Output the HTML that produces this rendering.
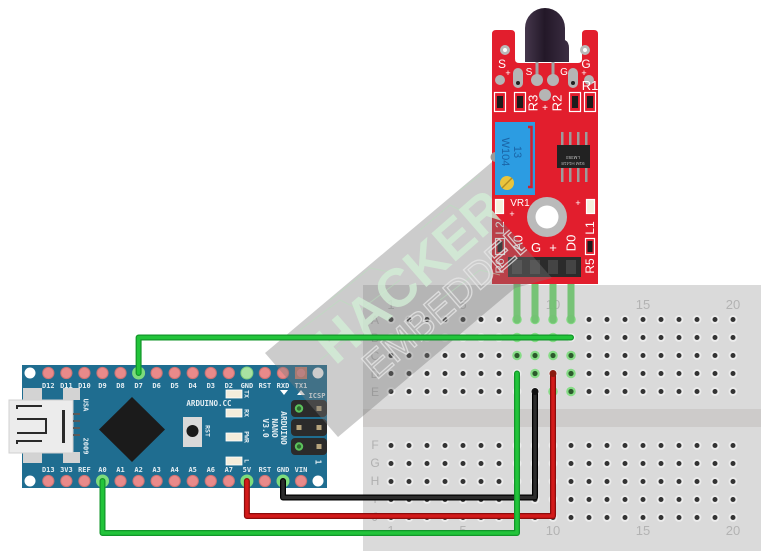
<!DOCTYPE html>
<html><head><meta charset="utf-8"><style>
html,body{margin:0;padding:0;background:#fff;}
svg{display:block;}
.mono{font-family:"DejaVu Sans Mono","Liberation Mono",monospace;font-weight:bold;}
.sans{font-family:"Liberation Sans",sans-serif;}
</style></head><body>
<svg width="766" height="556" viewBox="0 0 766 556" xmlns="http://www.w3.org/2000/svg">
<defs>
<pattern id="holes" x="382" y="310.5" width="18" height="18" patternUnits="userSpaceOnUse">
<circle cx="9" cy="9" r="4.4" fill="#ececec"/><circle cx="9" cy="9" r="2.5" fill="#333"/>
</pattern>
<pattern id="pads" x="39.3" y="366" width="18.05" height="14" patternUnits="userSpaceOnUse">
<circle cx="9.025" cy="7" r="5.6" fill="#e98a8a" stroke="#cf7272" stroke-width="1"/>
</pattern>
<pattern id="pads2" x="39.3" y="474" width="18.05" height="14" patternUnits="userSpaceOnUse">
<circle cx="9.025" cy="7" r="5.6" fill="#e98a8a" stroke="#cf7272" stroke-width="1"/>
</pattern>
<linearGradient id="led" x1="0" x2="1" y1="0" y2="0">
<stop offset="0" stop-color="#45374c"/><stop offset="0.45" stop-color="#231828"/><stop offset="1" stop-color="#3c2e43"/>
</linearGradient>
<clipPath id="wm"><polygon points="265,353 492,162 492,210 552,278 515,288 338,437"/></clipPath>
</defs>

<!-- Breadboard -->
<rect x="363" y="285" width="398" height="266" fill="#dadada"/>
<rect x="363" y="409" width="398" height="18" fill="#cdcbca"/>
<rect x="382" y="310.5" width="360" height="90" fill="url(#holes)"/>
<rect x="382" y="435.5" width="360" height="90" fill="url(#holes)"/>
<g class="sans" font-size="13" fill="#b3b3b3" text-anchor="middle">
<text x="391" y="309">1</text><text x="463" y="309">5</text><text x="553" y="309">10</text><text x="643" y="309">15</text><text x="733" y="309">20</text>
<text x="391" y="535">1</text><text x="463" y="535">5</text><text x="553" y="535">10</text><text x="643" y="535">15</text><text x="733" y="535">20</text>
</g>
<g class="sans" font-size="12" fill="#b0b0b0" text-anchor="middle">
<text x="375" y="324">A</text><text x="375" y="342">B</text><text x="375" y="360">C</text><text x="375" y="378">D</text><text x="375" y="396">E</text>
<text x="375" y="449">F</text><text x="375" y="467">G</text><text x="375" y="485">H</text><text x="375" y="503">I</text><text x="375" y="521">J</text>
</g>
<!-- highlighted holes cols 8-11 rows A-E -->
<g>
<g fill="#86dc86"><circle cx="517" cy="319.5" r="4.8"/><circle cx="535" cy="319.5" r="4.8"/><circle cx="553" cy="319.5" r="4.8"/><circle cx="571" cy="319.5" r="4.8"/>
<circle cx="517" cy="355.5" r="4.8"/><circle cx="535" cy="355.5" r="4.8"/><circle cx="553" cy="355.5" r="4.8"/><circle cx="571" cy="355.5" r="4.8"/>
<circle cx="535" cy="373.5" r="4.8"/><circle cx="571" cy="373.5" r="4.8"/>
<circle cx="553" cy="391.5" r="4.8"/><circle cx="571" cy="391.5" r="4.8"/>
<circle cx="517" cy="337.5" r="4.8"/><circle cx="535" cy="337.5" r="4.8"/><circle cx="553" cy="337.5" r="4.8"/></g>
<g fill="#2c5a2c"><circle cx="535" cy="355.5" r="2.6"/><circle cx="553" cy="355.5" r="2.6"/><circle cx="571" cy="355.5" r="2.6"/><circle cx="517" cy="355.5" r="2.6"/>
<circle cx="535" cy="373.5" r="2.6"/><circle cx="571" cy="373.5" r="2.6"/><circle cx="553" cy="391.5" r="2.6"/><circle cx="571" cy="391.5" r="2.6"/>
<circle cx="517" cy="337.5" r="2.6"/><circle cx="535" cy="337.5" r="2.6"/><circle cx="553" cy="337.5" r="2.6"/></g>
</g>

<!-- Arduino Nano -->
<g>
<rect x="22" y="365" width="305" height="123" fill="#1f6d90"/>
<g fill="#fff"><circle cx="30" cy="373" r="5.5"/><circle cx="318" cy="373" r="5.5"/><circle cx="30" cy="481" r="5.5"/><circle cx="318" cy="481" r="5.5"/></g>
<rect x="39.3" y="366" width="270.75" height="14" fill="url(#pads)"/>
<rect x="39.3" y="474" width="270.75" height="14" fill="url(#pads2)"/>
<rect x="295" y="367" width="12" height="12" fill="#c47c6c"/><circle cx="301" cy="373" r="4.2" fill="#e48686"/>
<circle cx="246.9" cy="373" r="6" fill="#a8e2a2" stroke="#7fcf7f" stroke-width="1"/>
<circle cx="138.6" cy="373" r="6.5" fill="#7cdc7c"/>
<circle cx="102.5" cy="481" r="6.5" fill="#7cdc7c"/>
<circle cx="246.9" cy="481" r="6.5" fill="#7cdc7c"/>
<circle cx="283" cy="481" r="6.5" fill="#7cdc7c"/>
<g class="mono" font-size="7" fill="#e4eef3" text-anchor="middle">
<text x="48.3" y="388">D12</text><text x="66.4" y="388">D11</text><text x="84.4" y="388">D10</text><text x="102.5" y="388">D9</text><text x="120.5" y="388">D8</text><text x="138.6" y="388">D7</text><text x="156.6" y="388">D6</text><text x="174.7" y="388">D5</text><text x="192.7" y="388">D4</text><text x="210.8" y="388">D3</text><text x="228.8" y="388">D2</text><text x="246.9" y="388">GND</text><text x="264.9" y="388">RST</text><text x="283" y="388">RXD</text><text x="301" y="388">TX1</text>
<text x="48.3" y="472">D13</text><text x="66.4" y="472">3V3</text><text x="84.4" y="472">REF</text><text x="102.5" y="472">A0</text><text x="120.5" y="472">A1</text><text x="138.6" y="472">A2</text><text x="156.6" y="472">A3</text><text x="174.7" y="472">A4</text><text x="192.7" y="472">A5</text><text x="210.8" y="472">A6</text><text x="228.8" y="472">A7</text><text x="246.9" y="472">5V</text><text x="264.9" y="472">RST</text><text x="283" y="472">GND</text><text x="301" y="472">VIN</text>
</g>
<!-- USB -->
<g fill="#d3d3d3"><rect x="23" y="388" width="19" height="12"/><rect x="63" y="388" width="17" height="12"/><rect x="23" y="452" width="19" height="11"/><rect x="63" y="452" width="17" height="11"/></g>
<rect x="9" y="400" width="64" height="53" fill="#ececec" stroke="#d0d0d0" stroke-width="1"/>
<g fill="#5a5a5a"><rect x="73" y="413" width="7" height="2"/><rect x="73" y="420" width="7" height="2"/><rect x="73" y="427" width="7" height="2"/><rect x="73" y="434" width="7" height="2"/></g>
<g stroke="#2a2a2a" stroke-width="2" fill="none">
<path d="M17,409 V406 H42"/><path d="M17,444 V441 H42"/>
<path d="M17,419 H46 V433 H17"/>
</g>
<rect x="62" y="410" width="3" height="33" fill="#2a2a2a"/>
<g class="mono" font-size="7" fill="#e4eef3" text-anchor="middle">
<text transform="translate(86,405) rotate(90)" y="2.5">USA</text>
<text transform="translate(86,446) rotate(90)" y="2.5">2009</text>
</g>
<polygon points="132,397 165,429.5 132,462 99,429.5" fill="#1b1b1b"/>
<rect x="183" y="417" width="19" height="30" fill="#d9d9d9"/>
<circle cx="192.5" cy="431" r="6" fill="#1a1a1a"/>
<g class="mono" font-size="6.5" fill="#e4eef3" text-anchor="middle">
<text transform="translate(208,431) rotate(90)" y="2.3">RST</text>
<text x="209" y="406" font-size="7.5">ARDUINO.CC</text>
<text transform="translate(247,394) rotate(90)" y="2.3">TX</text>
<text transform="translate(247,413) rotate(90)" y="2.3">RX</text>
<text transform="translate(247,437) rotate(90)" y="2.3">PWR</text>
<text transform="translate(247,461) rotate(90)" y="2.3">L</text>
</g>
<g fill="#f4eddb" stroke="#ffffff" stroke-width="0.8">
<rect x="226" y="390" width="16" height="8"/><rect x="226" y="409" width="16" height="8"/><rect x="226" y="433" width="16" height="8"/><rect x="226" y="457" width="16" height="8"/>
</g>
<g class="mono" font-size="8" fill="#e4eef3" text-anchor="middle">
<text transform="translate(284,428) rotate(90)" y="2.8">ARDUINO</text>
<text transform="translate(275,428) rotate(90)" y="2.8">NANO</text>
<text transform="translate(266,428) rotate(90)" y="2.8">V3.0</text>
<text x="317" y="398" font-size="7">ICSP</text>
<text transform="translate(318,462) rotate(90)" y="2.5" font-size="8">1</text>
</g>
<polygon points="280,390 288,390 284,395" fill="#fff"/>
<polygon points="297,395 305,395 301,390" fill="#fff"/>
<g fill="#2b2b2b"><rect x="291" y="400" width="36" height="17" rx="4"/><rect x="291" y="419" width="36" height="17" rx="4"/><rect x="291" y="438" width="36" height="17" rx="4"/></g>
<circle cx="299" cy="408.5" r="4.2" fill="#5cc35c"/><circle cx="299" cy="408.5" r="2.2" fill="#2e6a2e"/>
<circle cx="299" cy="446.5" r="4.2" fill="#5cc35c"/><circle cx="299" cy="446.5" r="2.2" fill="#2e6a2e"/>
<g fill="#b7a47c"><rect x="316.5" y="406" width="5" height="5"/><rect x="296.5" y="425" width="5" height="5"/><rect x="316.5" y="425" width="5" height="5"/><rect x="316.5" y="444" width="5" height="5"/></g>
</g>

<!-- Sensor legs -->
<g stroke="#72c272" stroke-width="7" stroke-linecap="round" opacity="0.95">
<line x1="517" y1="270" x2="517" y2="320"/><line x1="535" y1="270" x2="535" y2="320"/><line x1="553" y1="270" x2="553" y2="320"/><line x1="571" y1="270" x2="571" y2="320"/>
</g>

<!-- Sensor module -->
<g>
<path d="M492,34 Q492,30 496,30 H511 Q515,30 515,34 V59 Q515,63 519,63 H578 Q582,63 582,59 V34 Q582,30 586,30 H594 Q598,30 598,34 V284 H492 Z" fill="#e21e2d"/>
<circle cx="505" cy="50" r="5" fill="#b9b9b9"/><circle cx="505" cy="50" r="2" fill="#fff"/>
<circle cx="585" cy="50" r="5" fill="#b9b9b9"/><circle cx="585" cy="50" r="2" fill="#fff"/>
<g stroke="#a3a3a3" stroke-width="3"><line x1="537" y1="55" x2="537" y2="80"/><line x1="553" y1="55" x2="553" y2="80"/></g>
<path d="M525,62 V28 A20,20 0 0 1 565,28 V40 Q569,42 569,48 V62 Z" fill="url(#led)"/>
<g fill="#b5b5b5">
<circle cx="500" cy="80" r="5"/><rect x="513" y="68" width="10" height="20" rx="5"/><circle cx="537" cy="80" r="6"/><circle cx="553" cy="80" r="6"/>
<rect x="568" y="68" width="10" height="20" rx="5"/><circle cx="589" cy="80" r="5"/><circle cx="545" cy="95" r="6"/>
</g>
<circle cx="518" cy="83" r="2" fill="#222"/><circle cx="573" cy="83" r="2" fill="#222"/>
<g class="sans" fill="#fff" text-anchor="middle">
<text x="502" y="68" font-size="12">S</text><text x="508" y="76" font-size="9">+</text>
<text x="529" y="75" font-size="10">S</text><text x="564" y="75" font-size="10">G</text>
<text x="586" y="68" font-size="12">G</text><text x="584" y="76" font-size="9">+</text>
<text x="590" y="90" font-size="13">R1</text>
<text transform="translate(533,103) rotate(-90)" y="4.5" font-size="13">R3</text>
<text transform="translate(557,103) rotate(-90)" y="4.5" font-size="13">R2</text>
<text x="545" y="111" font-size="10">+</text>
</g>
<g>
<g fill="none" stroke="#fff" stroke-width="1.2"><rect x="494.5" y="92.5" width="11" height="19"/><rect x="514.5" y="92.5" width="11" height="19"/><rect x="569.5" y="92.5" width="11" height="19"/><rect x="584.5" y="92.5" width="11" height="19"/>
<rect x="495.5" y="238.5" width="9" height="16"/><rect x="585.5" y="238.5" width="9" height="16"/></g>
<g fill="#1c1c1c"><rect x="497" y="96" width="6" height="12"/><rect x="517" y="96" width="6" height="12"/><rect x="572" y="96" width="6" height="12"/><rect x="587" y="96" width="6" height="12"/>
<rect x="497.5" y="241" width="5" height="11"/><rect x="587.5" y="241" width="5" height="11"/></g>
</g>
<circle cx="495.5" cy="157" r="5" fill="#9a9a9a"/>
<rect x="495" y="122" width="40" height="73" fill="#2c9ce2"/>
<path d="M528,127 H531.5 V187 H528" fill="none" stroke="#d3202c" stroke-width="2.5"/>
<g class="sans" fill="#1a64a6" text-anchor="middle" font-size="11">
<text transform="translate(506,152) rotate(90)" y="4">W104</text>
<text transform="translate(518,152) rotate(90)" y="4">13</text>
</g>
<circle cx="507" cy="183" r="7" fill="#e9c53c"/>
<line x1="502" y1="188" x2="512" y2="178" stroke="#b48e22" stroke-width="1.5"/>
<g fill="#9c9c9c"><rect x="561" y="132" width="2.5" height="14"/><rect x="569" y="132" width="2.5" height="14"/><rect x="577" y="132" width="2.5" height="14"/><rect x="585" y="132" width="2.5" height="14"/>
<rect x="561" y="167" width="2.5" height="15"/><rect x="569" y="167" width="2.5" height="15"/><rect x="577" y="167" width="2.5" height="15"/><rect x="585" y="167" width="2.5" height="15"/></g>
<rect x="557" y="145" width="33" height="23" fill="#222"/>
<g class="sans" fill="#bbb" font-size="4.5" text-anchor="middle"><text transform="translate(573,156) rotate(180)">LM393</text><text transform="translate(573,162) rotate(180)">91M H1418</text></g>
<g class="sans" fill="#fff" text-anchor="middle">
<text x="520" y="206" font-size="10">VR1</text>
<text x="512" y="217" font-size="9">+</text>
<text x="578" y="206" font-size="9">+</text>
<text transform="translate(500,228) rotate(-90)" y="4" font-size="12">L2</text>
<text transform="translate(590,228) rotate(-90)" y="4" font-size="12">L1</text>
<text transform="translate(500,266) rotate(-90)" y="4" font-size="12">R6</text>
<text transform="translate(590,266) rotate(-90)" y="4" font-size="12">R5</text>
<text transform="translate(518,243) rotate(-90)" y="4.5" font-size="13">A0</text>
<text x="536" y="252" font-size="13">G</text>
<text x="553" y="252" font-size="13">+</text>
<text transform="translate(571,243) rotate(-90)" y="4.5" font-size="13">D0</text>
</g>
<g fill="#f5efdc" stroke="#fff" stroke-width="1.2"><rect x="495.5" y="199.5" width="8" height="14"/><rect x="586.5" y="199.5" width="8" height="14"/></g>
<circle cx="547" cy="217" r="20" fill="#bababa"/><circle cx="547" cy="217" r="11.5" fill="#fff"/>
<rect x="508" y="257" width="73" height="20" fill="#2b2b2b"/>
<g fill="#444"><rect x="512" y="260" width="10" height="14"/><rect x="530" y="260" width="10" height="14"/><rect x="548" y="260" width="10" height="14"/><rect x="566" y="260" width="10" height="14"/></g>
</g>

<!-- Watermark -->
<g clip-path="url(#wm)">
<rect x="250" y="150" width="330" height="300" fill="#7a7a7a" opacity="0.38"/>
<g stroke="#b8e0bc" stroke-width="1" fill="none" opacity="0.55">
<path d="M300,330 L340,300 L360,310 L400,280"/><path d="M320,360 L360,330 L380,340"/><path d="M420,230 L450,205 L470,215"/><path d="M440,300 L480,270 L500,275"/>
<path d="M330,300 L370,268 L390,272"/><path d="M460,190 L480,175"/>
</g>
<text class="sans" font-weight="bold" font-size="54" fill="#d3efd6" opacity="0.78" text-anchor="middle" transform="translate(410,276) rotate(-41)" y="19">HACKER</text>
<text class="sans" font-size="38" fill="none" stroke="#e6e6e6" stroke-width="1.3" opacity="0.8" text-anchor="middle" transform="translate(449,300) rotate(-41)" y="13">EMBEDDED</text>
</g>

<!-- Wires -->
<g fill="none" stroke-linecap="round" stroke-linejoin="round">
<path d="M283,481 V497.5 H535 V391.5" stroke="#000" stroke-width="6"/>
<path d="M283,481 V497.5 H535 V391.5" stroke="#2c2c2c" stroke-width="3.5"/>
<path d="M246.9,481 V516 H553 V373.5" stroke="#8c0c0c" stroke-width="6"/>
<path d="M246.9,481 V516 H553 V373.5" stroke="#d31a1a" stroke-width="3.5"/>
<path d="M102.5,481 V533 H517 V373.5" stroke="#12962a" stroke-width="6"/>
<path d="M102.5,481 V533 H517 V373.5" stroke="#22c43a" stroke-width="3.5"/>
<path d="M138.6,373 V337.5 H571" stroke="#12962a" stroke-width="6"/>
<path d="M138.6,373 V337.5 H571" stroke="#22c43a" stroke-width="3.5"/>
</g>
<circle cx="553" cy="373.5" r="3.5" fill="#8a1a10"/>
<circle cx="535" cy="391.5" r="3.5" fill="#111"/>
</svg>
</body></html>
